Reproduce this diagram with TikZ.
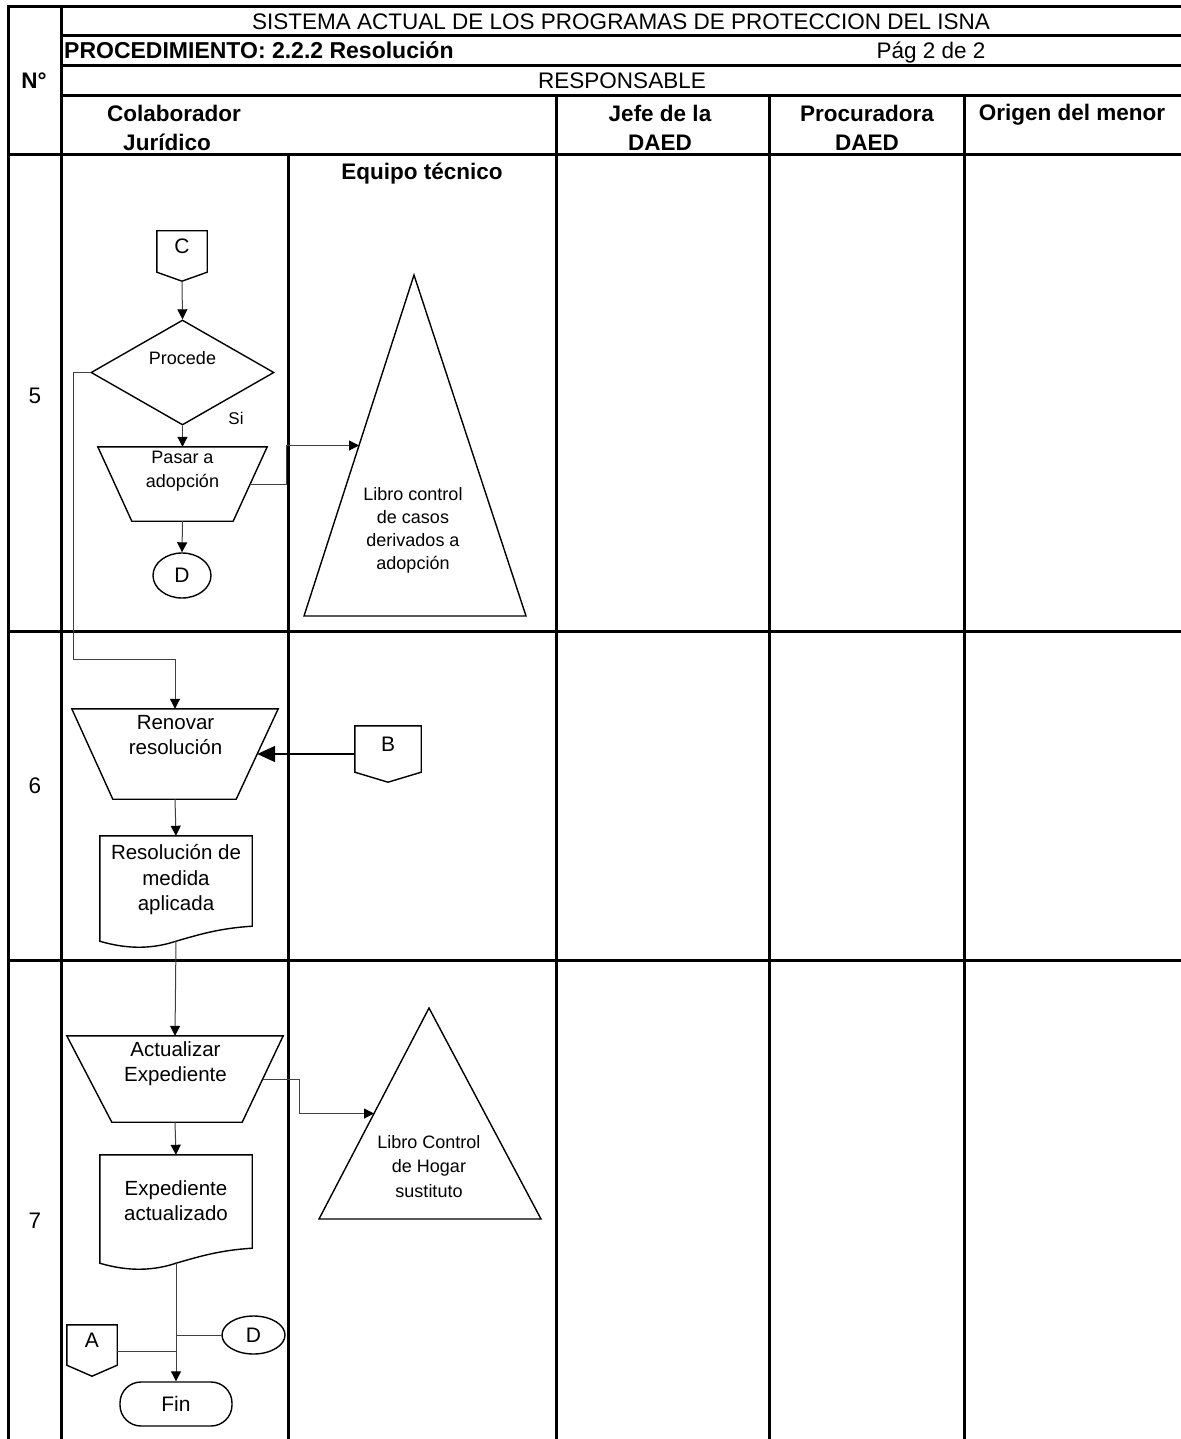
\documentclass[tikz,border=0pt]{standalone}
\usepackage{fontspec}
\setmainfont{Liberation Sans}
\usetikzlibrary{shapes.geometric,arrows.meta,calc}

\newcommand{\fHead}{\fontsize{22.5}{29}\selectfont}
\newcommand{\fStep}{\fontsize{20.5}{25.5}\selectfont}
\newcommand{\fNote}{\fontsize{18}{23.5}\selectfont}
\newcommand{\fConn}{\fontsize{21}{25}\selectfont}

% off-page connector: a box with a pointed lower side
\newcommand{\offpageoutline}[2]{%
  \draw[outline] (#1.north west) -- (#1.north east) -- (#1.south east)
    -- ([yshift=-#2]#1.south) -- (#1.south west) -- cycle;
  \coordinate (#1-tip) at ([yshift=-#2]#1.south);}

% manual operation: trapezium, wide side on top
\newcommand{\manoutline}[3]{%
  \draw[outline] (#1.north west) -- (#1.north east) -- ([xshift=-#3]#1.south east)
    -- ([xshift=#2]#1.south west) -- cycle;
  \coordinate (#1-e) at ($(#1.north east)!0.5!([xshift=-#3]#1.south east)$);}

% document symbol with a wavy lower edge
\newcommand{\docoutline}[1]{%
  \draw[outline] (#1.north west) -- (#1.north east) -- ([yshift=15pt]#1.south east)
    .. controls ([xshift=-32pt,yshift=13pt]#1.south east) and ([xshift=-52pt,yshift=7pt]#1.south east) .. (#1.south)
    .. controls ([xshift=-21pt,yshift=-7pt]#1.south) and ([xshift=-46pt,yshift=-9pt]#1.south) .. (#1.south west)
    -- cycle;}

\tikzset{
  rule/.style={line width=3pt, line cap=rect},
  outline/.style={draw=black, line width=1.4pt, line join=miter},
  hd/.style={font=\fHead, inner sep=0pt},
  hdb/.style={font=\fHead\bfseries, inner sep=0pt, align=center},
  steptxt/.style={font=\fStep, inner sep=0pt, align=center},
  notetxt/.style={font=\fNote, inner sep=0pt, align=center},
  offpage/.style={font=\fConn, inner sep=0pt, text height=4pt, text depth=0pt},
  decision/.style={diamond, aspect=1.74, outline, inner sep=0pt, minimum width=183pt, minimum height=105pt},
  manual/.style={rectangle, inner sep=0pt},
  docbox/.style={rectangle, inner sep=0pt, minimum width=152pt},
  conn/.style={ellipse, outline, inner sep=0pt, font=\fConn},
  terminal/.style={rectangle, rounded corners=21pt, outline, inner sep=0pt, font=\fConn, minimum width=112pt, minimum height=44pt},
  flow/.style={line width=1pt, draw=black!75, -{Triangle[length=10pt,width=10pt,color=black]}},
  bigflow/.style={line width=1.8pt, draw=black, -{Triangle[length=18pt,width=16pt]}},
  link/.style={line width=1pt, draw=black!75}
}

\begin{document}
\begin{tikzpicture}[x=1pt,y=-1pt]
\useasboundingbox (0,0) rectangle (1180,1439);
\fill[white] (0,0) rectangle (1180,1439);

% ---- table frame ----
\draw[rule] (8,7) -- (1180,7);
\draw[rule] (61,36) -- (1180,36);
\draw[rule] (61,66) -- (1180,66);
\draw[rule] (61,96) -- (1180,96);
\draw[rule] (8,155) -- (1180,155);
\draw[rule] (8,631) -- (1180,631);
\draw[rule] (8,960) -- (1180,960);
\draw[rule] (8,7) -- (8,1439);
\draw[rule] (61,7) -- (61,1439);
\draw[rule] (288,155) -- (288,1439);
\draw[rule] (556,96) -- (556,1439);
\draw[rule] (769,96) -- (769,1439);
\draw[rule] (964,96) -- (964,1439);

% ---- header texts ----
\node[hd, anchor=base] (title) at (621,29.5) {SISTEMA ACTUAL DE LOS PROGRAMAS DE PROTECCION DEL ISNA};
\node[hdb, anchor=base west, font=\fontsize{23}{29}\selectfont\bfseries] (proc) at (64,59) {PROCEDIMIENTO: 2.2.2 Resolución};
\node[hd, anchor=base] (pag) at (931,59) {Pág 2 de 2};
\node[hd, anchor=base] (resp) at (622,89) {RESPONSABLE};
\node[hdb, anchor=base] (num) at (34,89) {N°};
\node[hdb, anchor=north] (colab) at (174,105) {Colaborador\\\hspace*{-14pt}Jurídico};
\node[hdb, anchor=north] (jefe) at (660,105) {Jefe de la\\DAED};
\node[hdb, anchor=north] (procu) at (867,105) {Procuradora\\DAED};
\node[hdb, anchor=base] (origen) at (1072,121) {Origen del menor};
\node[hdb, anchor=base] (equipo) at (422,180) {Equipo técnico};

% ---- step numbers ----
\node[hd, anchor=base] (r5) at (35,403) {5};
\node[hd, anchor=base] (r6) at (35,793) {6};
\node[hd, anchor=base] (r7) at (35,1228) {7};

% ---- step 5 ----
\node[offpage, minimum width=50pt, minimum height=41pt] (C) at (182,251.5) {C};
\offpageoutline{C}{9pt}
\node[decision] (dec) at (182.5,372.5) {};
\node[notetxt] (dec-t) at (182.5,358) {Procede};
\node[notetxt, font=\fontsize{17}{20}\selectfont] (si) at (236,418) {Si};
\node[manual, minimum width=169pt, minimum height=74pt] (pasar) at (182.5,484) {};
\manoutline{pasar}{34pt}{34pt}
\node[notetxt] (pasar-t) at (182.5,471) {Pasar a\\adopción};
\node[conn, minimum width=58pt, minimum height=45pt] (d1) at (182,575.5) {D};

\coordinate (t1apex) at (414,275);
\coordinate (t1left) at (304,616);
\coordinate (t1right) at (526,616);
\draw[outline] (t1apex) -- (t1right) -- (t1left) -- cycle;
\coordinate (t1in) at ($(t1apex)!0.5!(t1left)$);
\node[notetxt, font=\fontsize{18}{23}\selectfont] (t1) at (413,530.5) {Libro control\\de casos\\derivados a\\adopción};

% ---- step 6 ----
\node[manual, minimum width=206pt, minimum height=90pt] (renovar) at (175,754) {};
\manoutline{renovar}{41pt}{42pt}
\node[steptxt] (renovar-t) at (175.5,735) {Renovar\\resolución};
\node[offpage, minimum width=66pt, minimum height=46pt] (B) at (388,749) {B};
\offpageoutline{B}{10pt}
\node[docbox, minimum height=105pt] (doc1) at (176,888.5) {};
\docoutline{doc1}
\node[steptxt] (doc1-t) at (176,880) {Resolución de\\medida\\aplicada};

% ---- step 7 ----
\node[manual, minimum width=216pt, minimum height=86pt] (act) at (175,1079) {};
\manoutline{act}{45pt}{41pt}
\node[steptxt] (act-t) at (175.5,1063.5) {Actualizar\\Expediente};
\node[docbox, minimum height=108pt] (doc2) at (176,1209) {};
\docoutline{doc2}
\node[steptxt] (doc2-t) at (176,1200.5) {Expediente\\actualizado};

\coordinate (t2apex) at (429,1008);
\coordinate (t2left) at (319,1219);
\coordinate (t2right) at (541,1219);
\draw[outline] (t2apex) -- (t2right) -- (t2left) -- cycle;
\coordinate (t2in) at ($(t2apex)!0.5!(t2left)$);
\node[notetxt, font=\fontsize{18}{24.5}\selectfont] (t2) at (429,1166.5) {Libro Control\\de Hogar\\sustituto};

\node[conn, minimum width=63pt, minimum height=38pt] (d2) at (253.5,1335) {D};
\node[offpage, minimum width=50pt, minimum height=40pt] (A) at (92,1345) {A};
\offpageoutline{A}{11pt}
\node[terminal] (fin) at (176,1404) {Fin};

% ---- connectors ----
\draw[flow] (C-tip) -- (dec.north);
\draw[flow] (dec.south) -- (pasar.north);
\coordinate (back) at (73,659);
\draw[flow] (dec.west) -| (back) -| (renovar.north);
\draw[flow] (pasar-e) -- ++(36,0) |- (t1in);
\draw[flow] (pasar.south) -- (d1.north);
\draw[bigflow] (B.west |- renovar-e) -- (renovar-e);
\draw[flow] (renovar.south) -- (doc1.north);
\draw[flow] (doc1.south) -- (act.north);
\draw[flow] (act-e) -- ++(37,0) |- (t2in);
\draw[flow] (act.south) -- (doc2.north);
\draw[flow] (doc2.south) -- (fin.north);
\draw[link] (d2.west) -- (d2.west -| fin.north);
\draw[link] ([yshift=-6pt]A.east) -- ([yshift=-6pt]A.east -| fin.north);
\end{tikzpicture}
\end{document}
